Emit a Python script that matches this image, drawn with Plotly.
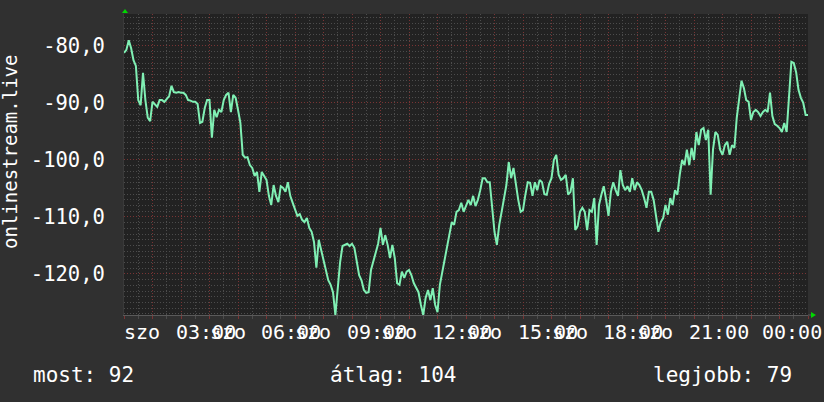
import plotly.graph_objects as go

# ---------------- data ----------------
minutes = list(range(0, 1441, 5))  # Saturday 00:00 -> 24:00, 5-minute steps
signal = [
    -81.2, -80.7, -79.0, -80.4, -82.5, -83.5, -89.5, -90.4, -84.7, -89.5, -92.6, -93.2,
    -89.8, -90.2, -90.7, -89.5, -89.5, -89.8, -89.3, -88.8, -87.0, -88.1, -88.2, -88.1,
    -88.2, -88.2, -88.6, -89.5, -89.6, -89.8, -89.8, -90.2, -93.5, -93.3, -90.9, -89.5,
    -89.5, -96.1, -91.2, -92.5, -91.2, -91.6, -89.5, -88.6, -88.2, -91.6, -88.6, -89.1,
    -91.2, -93.5, -99.1, -99.6, -99.5, -100.9, -101.4, -102.8, -102.1, -105.6, -102.1, -102.8,
    -103.5, -106.3, -107.9, -104.4, -106.3, -107.4, -104.6, -104.9, -105.6, -103.9, -106.3, -107.5,
    -108.8, -109.8, -109.5, -110.5, -110.9, -110.2, -111.9, -112.6, -114.4, -118.9, -114.0, -115.8,
    -117.2, -118.9, -121.1, -121.9, -123.2, -127.2, -122.8, -117.9, -115.1, -114.9, -114.7, -115.1,
    -114.7, -115.4, -117.9, -120.2, -121.1, -122.8, -123.3, -123.2, -119.3, -117.9, -116.1, -114.7,
    -111.9, -114.9, -113.2, -114.9, -117.2, -114.9, -117.2, -121.6, -121.9, -119.6, -120.7, -119.6,
    -119.3, -120.2, -121.6, -122.5, -123.2, -125.4, -127.2, -124.2, -122.8, -124.6, -122.5, -125.4,
    -126.7, -121.9, -119.6, -117.9, -115.4, -112.6, -110.9, -111.4, -109.1, -108.8, -107.5, -109.1,
    -108.1, -107.0, -107.9, -106.3, -108.1, -107.0, -105.3, -103.2, -103.2, -103.9, -103.9, -107.9,
    -112.6, -114.9, -111.4, -109.1, -106.7, -104.4, -100.4, -103.2, -101.4, -104.6, -107.0, -109.1,
    -108.8, -106.1, -103.9, -104.0, -106.3, -103.9, -105.3, -103.5, -103.9, -106.0, -106.1, -104.2,
    -103.2, -100.0, -99.1, -102.6, -103.5, -103.2, -102.6, -106.1, -105.6, -103.2, -112.3, -111.6,
    -109.1, -108.4, -109.1, -112.3, -108.8, -109.1, -106.7, -114.9, -107.9, -106.1, -104.6, -107.0,
    -109.8, -105.6, -103.9, -105.3, -106.3, -101.8, -104.4, -105.3, -104.6, -105.6, -103.2, -105.3,
    -103.9, -104.4, -105.3, -106.7, -108.4, -105.6, -105.6, -107.0, -110.2, -112.6, -110.9, -110.2,
    -107.9, -109.6, -106.7, -107.9, -105.3, -106.1, -102.6, -100.0, -100.9, -98.2, -100.9, -97.9,
    -100.0, -95.1, -97.4, -94.7, -94.4, -96.5, -94.7, -106.1, -98.2, -95.1, -95.6, -98.2,
    -99.1, -97.4, -96.8, -99.1, -97.4, -97.9, -92.6, -88.9, -86.1, -87.4, -89.5, -89.8,
    -93.0, -91.6, -91.2, -91.6, -92.3, -91.6, -91.2, -91.6, -88.2, -92.3, -93.7, -94.0,
    -94.4, -95.1, -93.5, -95.1, -88.2, -82.8, -83.0, -84.6, -87.7, -89.1, -90.0, -92.1, -92.1,
]

y_tickvals = [-80, -90, -100, -110, -120]
y_ticktext = ["-80,0", "-90,0", "-100,0", "-110,0", "-120,0"]

hour_label_pos = [180, 360, 540, 720, 900, 1080, 1260]
hour_label_text = ["03:00", "06:00", "09:00", "12:00", "15:00", "18:00", "21:00"]
day_label_pos = [0, 180, 360, 540, 720, 900, 1080]
day_label_text = "szo"
end_label_text = "00:00"

axis_title = "onlinestream.live"
stat_names = ["most", "átlag", "legjobb"]
stat_values = [92, 104, 79]

# ---------------- style ----------------
FONT = "DejaVu Sans Mono"
BG = "#303030"
PLOT_BG = "#222222"
MINOR = "#4c4c4c"
MAJOR = "#7a3434"
LINE = "#80f0b4"
TXT = "#ffffff"
ARROW = "#00d800"

fig = go.Figure()
fig.add_trace(go.Scatter(x=minutes, y=signal, mode="lines",
                         line=dict(color=LINE, width=2), hoverinfo="skip"))

fig.update_layout(
    width=824, height=402,
    margin=dict(l=124, r=16, t=14, b=87, pad=0, autoexpand=False),
    paper_bgcolor=BG, plot_bgcolor=PLOT_BG,
    showlegend=False,
    font=dict(family=FONT, color=TXT, size=20),
)

fig.update_xaxes(
    range=[0, 1440], showticklabels=False, zeroline=False, automargin=False,
    tickmode="linear", tick0=0, dtick=60,
    showgrid=True, gridcolor=MAJOR, griddash="1px,2px", gridwidth=1,
    ticks="outside", ticklen=3, tickcolor=MAJOR,
    minor=dict(tick0=0, dtick=30, showgrid=True, gridcolor=MINOR,
               griddash="1px,2px", ticks="outside", ticklen=3, tickcolor=MINOR),
    showline=True, linecolor="#5a5a5a", linewidth=1,
)
fig.update_yaxes(
    range=[-127.2, -74.4], zeroline=False, automargin=False,
    tickmode="array", tickvals=y_tickvals, ticktext=y_ticktext,
    tickfont=dict(family=FONT, size=20.5, color=TXT),
    ticks="", ticklabelstandoff=14,
    showgrid=True, gridcolor=MAJOR, griddash="1px,2px", gridwidth=1,
    minor=dict(tick0=-80, dtick=1, showgrid=True, gridcolor=MINOR, griddash="1px,2px"),
    showline=True, linecolor="#3a3a3a", linewidth=1,
)

ann = []
# x labels: day names left-aligned at ticks, times centred on ticks
for p in day_label_pos:
    ann.append(dict(x=p, xref="x", y=0, yref="paper", text=day_label_text,
                    xanchor="left", yanchor="middle", yshift=-17, xshift=-2,
                    showarrow=False, font=dict(family=FONT, size=20, color=TXT)))
for p, t in zip(hour_label_pos, hour_label_text):
    ann.append(dict(x=p, xref="x", y=0, yref="paper", text=t,
                    xanchor="center", yanchor="middle", yshift=-17, xshift=-4,
                    showarrow=False, font=dict(family=FONT, size=20, color=TXT)))
ann.append(dict(x=1, xref="paper", y=0, yref="paper", text=end_label_text,
                xanchor="right", yanchor="middle", yshift=-17, xshift=16,
                showarrow=False, font=dict(family=FONT, size=20, color=TXT)))

# vertical axis title
ann.append(dict(x=0, xref="paper", y=(315 - 152) / 301, yref="paper", text=axis_title,
                textangle=-90, xanchor="center", yanchor="middle", xshift=-114,
                showarrow=False, font=dict(family=FONT, size=19, color=TXT)))

# bottom statistics
stat_text = [f"{n}: {v}" for n, v in zip(stat_names, stat_values)]
ann.append(dict(x=0, xref="paper", y=0, yref="paper", text=stat_text[0],
                xanchor="left", yanchor="middle", xshift=-93.5, yshift=-60,
                showarrow=False, font=dict(family=FONT, size=21, color=TXT)))
ann.append(dict(x=0, xref="paper", y=0, yref="paper", text=stat_text[1],
                xanchor="center", yanchor="middle", xshift=268.5, yshift=-60,
                showarrow=False, font=dict(family=FONT, size=21, color=TXT)))
ann.append(dict(x=1, xref="paper", y=0, yref="paper", text=stat_text[2],
                xanchor="right", yanchor="middle", xshift=-14.5, yshift=-60,
                showarrow=False, font=dict(family=FONT, size=21, color=TXT)))
fig.update_layout(annotations=ann)

# axis arrows (RRD style)
fig.add_shape(type="path", xref="paper", yref="paper", xsizemode="pixel", ysizemode="pixel",
              xanchor=0, yanchor=1, path="M -2,1 L 4,1 L 1,5 Z",
              fillcolor=ARROW, line=dict(width=0))
fig.add_shape(type="path", xref="paper", yref="paper", xsizemode="pixel", ysizemode="pixel",
              xanchor=1, yanchor=0, path="M 3,3 L 3,-3 L 8,0 Z",
              fillcolor=ARROW, line=dict(width=0))
fig.add_shape(type="line", xref="paper", yref="paper", xsizemode="pixel",
              xanchor=1, x0=0, x1=3, y0=0, y1=0, line=dict(color="#5a5a5a", width=1))

fig.write_html("out.html", config={"displayModeBar": False},
               post_script="document.body.style.margin='0';document.body.style.overflow='hidden';")
